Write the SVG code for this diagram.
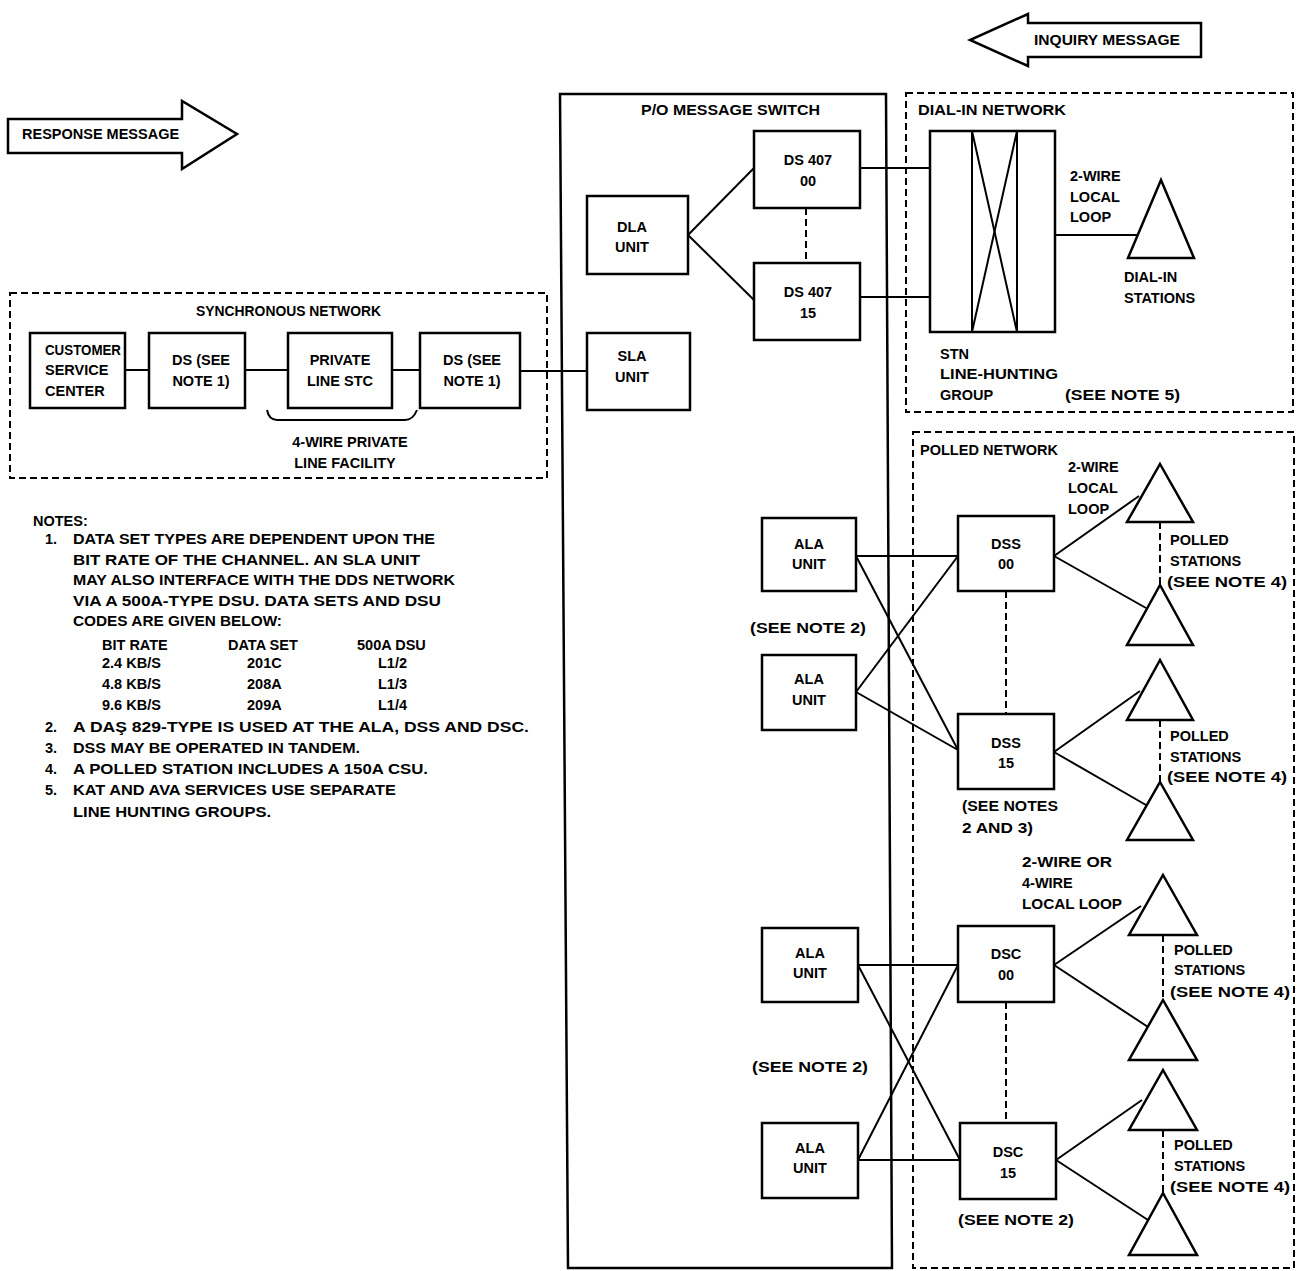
<svg xmlns="http://www.w3.org/2000/svg" width="1299" height="1271" viewBox="0 0 1299 1271">
<style>
text{font-family:"Liberation Sans",Arial,sans-serif;font-weight:bold;font-size:14.5px;fill:#000}
.c{text-anchor:middle}
.b{fill:#fff;stroke:#000;stroke-width:2.5}
.d{fill:none;stroke:#000;stroke-width:2;stroke-dasharray:7 4}
.l{fill:none;stroke:#000;stroke-width:2}
.t{fill:#fff;stroke:#000;stroke-width:2.5;stroke-linejoin:miter}
</style>
<rect width="1299" height="1271" fill="#fff"/>

<g id="response-arrow">
<polygon class="t" points="8,119 182,119 182,101 237,134 182,169 182,153 8,153"/>
<text x="22" y="139">RESPONSE MESSAGE</text>
</g>
<g id="inquiry-arrow">
<polygon class="t" points="1201,23 1028,23 1028,14 970,40 1028,66 1028,57 1201,57"/>
<text x="1034" y="45" textLength="146" lengthAdjust="spacingAndGlyphs">INQUIRY MESSAGE</text>
</g>

<g id="groups">
<polygon points="560,94 886,94 892,1268 568,1268" fill="none" stroke="#000" stroke-width="2.5"/>
<text x="641" y="115" textLength="179" lengthAdjust="spacingAndGlyphs">P/O MESSAGE SWITCH</text>
<rect class="d" x="906" y="93" width="387" height="319"/>
<text x="918" y="115" textLength="148" lengthAdjust="spacingAndGlyphs">DIAL-IN NETWORK</text>
<rect class="d" x="10" y="293" width="537" height="185"/>
<text x="196" y="316" textLength="185" lengthAdjust="spacingAndGlyphs">SYNCHRONOUS NETWORK</text>
<rect class="d" x="913" y="432" width="381" height="836"/>
<text x="920" y="455" textLength="138" lengthAdjust="spacingAndGlyphs">POLLED NETWORK</text>
</g>

<g id="connectors">
<line class="l" x1="125" y1="370" x2="149" y2="370"/>
<line class="l" x1="245" y1="370" x2="288" y2="370"/>
<line class="l" x1="392" y1="370" x2="420" y2="370"/>
<line class="l" x1="520" y1="371" x2="587" y2="371"/>
<path class="l" d="M267,410 Q269,420 277,420 L405,420 Q413,420 417,410"/>
<line class="l" x1="688" y1="235" x2="754" y2="168"/>
<line class="l" x1="688" y1="235" x2="754" y2="300"/>
<line class="d" x1="806" y1="208" x2="806" y2="263"/>
<line class="l" x1="860" y1="168" x2="930" y2="168"/>
<line class="l" x1="860" y1="297" x2="930" y2="297"/>
<line class="l" x1="1055" y1="235" x2="1139" y2="235"/>
<line class="l" x1="856" y1="556" x2="958" y2="556"/>
<line class="l" x1="856" y1="556" x2="958" y2="750"/>
<line class="l" x1="856" y1="692" x2="958" y2="556"/>
<line class="l" x1="856" y1="692" x2="958" y2="750"/>
<line class="d" x1="1006" y1="591" x2="1006" y2="714"/>
<line class="l" x1="1054" y1="556" x2="1139" y2="496"/>
<line class="l" x1="1054" y1="556" x2="1146" y2="608"/>
<line class="l" x1="1054" y1="752" x2="1140" y2="691"/>
<line class="l" x1="1054" y1="752" x2="1146" y2="805"/>
<line class="d" x1="1160" y1="522" x2="1160" y2="585"/>
<line class="d" x1="1160" y1="720" x2="1160" y2="782"/>
<line class="l" x1="858" y1="965" x2="958" y2="965"/>
<line class="l" x1="858" y1="965" x2="960" y2="1160"/>
<line class="l" x1="858" y1="1160" x2="958" y2="965"/>
<line class="l" x1="858" y1="1160" x2="960" y2="1160"/>
<line class="d" x1="1006" y1="1002" x2="1006" y2="1123"/>
<line class="l" x1="1054" y1="965" x2="1141" y2="906"/>
<line class="l" x1="1054" y1="965" x2="1148" y2="1027"/>
<line class="l" x1="1056" y1="1160" x2="1142" y2="1100"/>
<line class="l" x1="1056" y1="1160" x2="1148" y2="1220"/>
<line class="d" x1="1163" y1="935" x2="1163" y2="1000"/>
<line class="d" x1="1163" y1="1130" x2="1163" y2="1193"/>
</g>

<g id="customer-service-center">
<rect class="b" x="30" y="333" width="95" height="75"/>
<text x="45" y="355" textLength="76" lengthAdjust="spacingAndGlyphs">CUSTOMER</text><text x="45" y="375">SERVICE</text><text x="45" y="396">CENTER</text>
</g>
<g id="ds-1">
<rect class="b" x="149" y="333" width="96" height="75"/>
<text x="201" y="365" class="c">DS (SEE</text><text x="201" y="386" class="c">NOTE 1)</text>
</g>
<g id="private-line-stc">
<rect class="b" x="288" y="333" width="104" height="75"/>
<text x="340" y="365" class="c">PRIVATE</text><text x="340" y="386" class="c">LINE STC</text>
</g>
<g id="ds-2">
<rect class="b" x="420" y="333" width="100" height="75"/>
<text x="472" y="365" class="c">DS (SEE</text><text x="472" y="386" class="c">NOTE 1)</text>
</g>
<g id="facility-label">
<text x="350" y="447" class="c">4-WIRE PRIVATE</text><text x="345" y="468" class="c">LINE FACILITY</text>
</g>

<g id="dla-unit">
<rect class="b" x="587" y="196" width="101" height="78"/>
<text x="632" y="232" class="c">DLA</text><text x="632" y="252" class="c">UNIT</text>
</g>
<g id="ds407-00">
<rect class="b" x="754" y="131" width="106" height="77"/>
<text x="808" y="165" class="c">DS 407</text><text x="808" y="186" class="c">00</text>
</g>
<g id="ds407-15">
<rect class="b" x="754" y="263" width="106" height="77"/>
<text x="808" y="297" class="c">DS 407</text><text x="808" y="318" class="c">15</text>
</g>
<g id="sla-unit">
<rect class="b" x="587" y="333" width="103" height="77"/>
<text x="632" y="361" class="c">SLA</text><text x="632" y="382" class="c">UNIT</text>
</g>

<g id="stn-line-hunting-group">
<rect class="b" x="930" y="131" width="125" height="201"/>
<line class="l" x1="972" y1="131" x2="972" y2="332"/>
<line class="l" x1="1017" y1="131" x2="1017" y2="332"/>
<line class="l" x1="972" y1="131" x2="1017" y2="332"/>
<line class="l" x1="1017" y1="131" x2="972" y2="332"/>
<text x="940" y="359">STN</text><text x="940" y="379" textLength="118" lengthAdjust="spacingAndGlyphs">LINE-HUNTING</text><text x="940" y="400">GROUP</text>
<text x="1065" y="400" textLength="115" lengthAdjust="spacingAndGlyphs">(SEE NOTE 5)</text>
</g>
<g id="dial-in-stations">
<polygon class="t" points="1161,180 1194,258 1128,258"/>
<text x="1070" y="181">2-WIRE</text><text x="1070" y="202">LOCAL</text><text x="1070" y="222">LOOP</text>
<text x="1124" y="282">DIAL-IN</text><text x="1124" y="303">STATIONS</text>
</g>

<g id="ala-unit-1">
<rect class="b" x="762" y="518" width="94" height="73"/>
<text x="809" y="549" class="c">ALA</text><text x="809" y="569" class="c">UNIT</text>
</g>
<text x="750" y="633" textLength="116" lengthAdjust="spacingAndGlyphs">(SEE NOTE 2)</text>
<g id="ala-unit-2">
<rect class="b" x="762" y="655" width="94" height="75"/>
<text x="809" y="684" class="c">ALA</text><text x="809" y="705" class="c">UNIT</text>
</g>
<g id="dss-00">
<rect class="b" x="958" y="516" width="96" height="75"/>
<text x="1006" y="549" class="c">DSS</text><text x="1006" y="569" class="c">00</text>
</g>
<g id="dss-15">
<rect class="b" x="958" y="714" width="96" height="75"/>
<text x="1006" y="748" class="c">DSS</text><text x="1006" y="768" class="c">15</text>
<text x="962" y="811" textLength="96" lengthAdjust="spacingAndGlyphs">(SEE NOTES</text><text x="962" y="833" textLength="71" lengthAdjust="spacingAndGlyphs">2 AND 3)</text>
</g>
<g id="polled-stations-1">
<polygon class="t" points="1160,464 1193,522 1127,522"/>
<polygon class="t" points="1160,585 1193,645 1127,645"/>
<text x="1068" y="472">2-WIRE</text><text x="1068" y="493">LOCAL</text><text x="1068" y="514">LOOP</text>
<text x="1170" y="545">POLLED</text><text x="1170" y="566">STATIONS</text><text x="1167" y="587" textLength="120" lengthAdjust="spacingAndGlyphs">(SEE NOTE 4)</text>
</g>
<g id="polled-stations-2">
<polygon class="t" points="1160,660 1193,720 1127,720"/>
<polygon class="t" points="1160,782 1193,840 1127,840"/>
<text x="1170" y="741">POLLED</text><text x="1170" y="762">STATIONS</text><text x="1167" y="782" textLength="120" lengthAdjust="spacingAndGlyphs">(SEE NOTE 4)</text>
</g>

<g id="ala-unit-3">
<rect class="b" x="762" y="928" width="96" height="74"/>
<text x="810" y="958" class="c">ALA</text><text x="810" y="978" class="c">UNIT</text>
</g>
<text x="752" y="1072" textLength="116" lengthAdjust="spacingAndGlyphs">(SEE NOTE 2)</text>
<g id="ala-unit-4">
<rect class="b" x="762" y="1123" width="96" height="75"/>
<text x="810" y="1153" class="c">ALA</text><text x="810" y="1173" class="c">UNIT</text>
</g>
<g id="dsc-00">
<rect class="b" x="958" y="926" width="96" height="76"/>
<text x="1006" y="959" class="c">DSC</text><text x="1006" y="980" class="c">00</text>
</g>
<g id="dsc-15">
<rect class="b" x="960" y="1123" width="96" height="76"/>
<text x="1008" y="1157" class="c">DSC</text><text x="1008" y="1178" class="c">15</text>
<text x="958" y="1225" textLength="116" lengthAdjust="spacingAndGlyphs">(SEE NOTE 2)</text>
</g>
<g id="polled-stations-3">
<text x="1022" y="867" textLength="90" lengthAdjust="spacingAndGlyphs">2-WIRE OR</text><text x="1022" y="888">4-WIRE</text><text x="1022" y="909" textLength="100" lengthAdjust="spacingAndGlyphs">LOCAL LOOP</text>
<polygon class="t" points="1163,875 1197,935 1129,935"/>
<polygon class="t" points="1163,1000 1197,1060 1129,1060"/>
<text x="1174" y="955">POLLED</text><text x="1174" y="975">STATIONS</text><text x="1170" y="997" textLength="120" lengthAdjust="spacingAndGlyphs">(SEE NOTE 4)</text>
</g>
<g id="polled-stations-4">
<polygon class="t" points="1163,1070 1197,1130 1129,1130"/>
<polygon class="t" points="1163,1193 1197,1255 1129,1255"/>
<text x="1174" y="1150">POLLED</text><text x="1174" y="1171">STATIONS</text><text x="1170" y="1192" textLength="120" lengthAdjust="spacingAndGlyphs">(SEE NOTE 4)</text>
</g>

<g id="notes">
<text x="33" y="526">NOTES:</text>
<text x="45" y="544">1.</text>
<text x="73" y="544" textLength="362" lengthAdjust="spacingAndGlyphs">DATA SET TYPES ARE DEPENDENT UPON THE</text>
<text x="73" y="565" textLength="347" lengthAdjust="spacingAndGlyphs">BIT RATE OF THE CHANNEL. AN SLA UNIT</text>
<text x="73" y="585" textLength="382" lengthAdjust="spacingAndGlyphs">MAY ALSO INTERFACE WITH THE DDS NETWORK</text>
<text x="73" y="606" textLength="368" lengthAdjust="spacingAndGlyphs">VIA A 500A-TYPE DSU. DATA SETS AND DSU</text>
<text x="73" y="626" textLength="209" lengthAdjust="spacingAndGlyphs">CODES ARE GIVEN BELOW:</text>
<text x="102" y="650">BIT RATE</text><text x="228" y="650">DATA SET</text><text x="357" y="650">500A DSU</text>
<text x="102" y="668">2.4 KB/S</text><text x="247" y="668">201C</text><text x="378" y="668">L1/2</text>
<text x="102" y="689">4.8 KB/S</text><text x="247" y="689">208A</text><text x="378" y="689">L1/3</text>
<text x="102" y="710">9.6 KB/S</text><text x="247" y="710">209A</text><text x="378" y="710">L1/4</text>
<text x="45" y="732">2.</text>
<text x="73" y="732" textLength="456" lengthAdjust="spacingAndGlyphs">A DAŞ 829-TYPE IS USED AT THE ALA, DSS AND DSC.</text>
<text x="45" y="753">3.</text>
<text x="73" y="753" textLength="287" lengthAdjust="spacingAndGlyphs">DSS MAY BE OPERATED IN TANDEM.</text>
<text x="45" y="774">4.</text>
<text x="73" y="774" textLength="355" lengthAdjust="spacingAndGlyphs">A POLLED STATION INCLUDES A 150A CSU.</text>
<text x="45" y="795">5.</text>
<text x="73" y="795" textLength="323" lengthAdjust="spacingAndGlyphs">KAT AND AVA SERVICES USE SEPARATE</text>
<text x="73" y="817" textLength="198" lengthAdjust="spacingAndGlyphs">LINE HUNTING GROUPS.</text>
</g>
</svg>
